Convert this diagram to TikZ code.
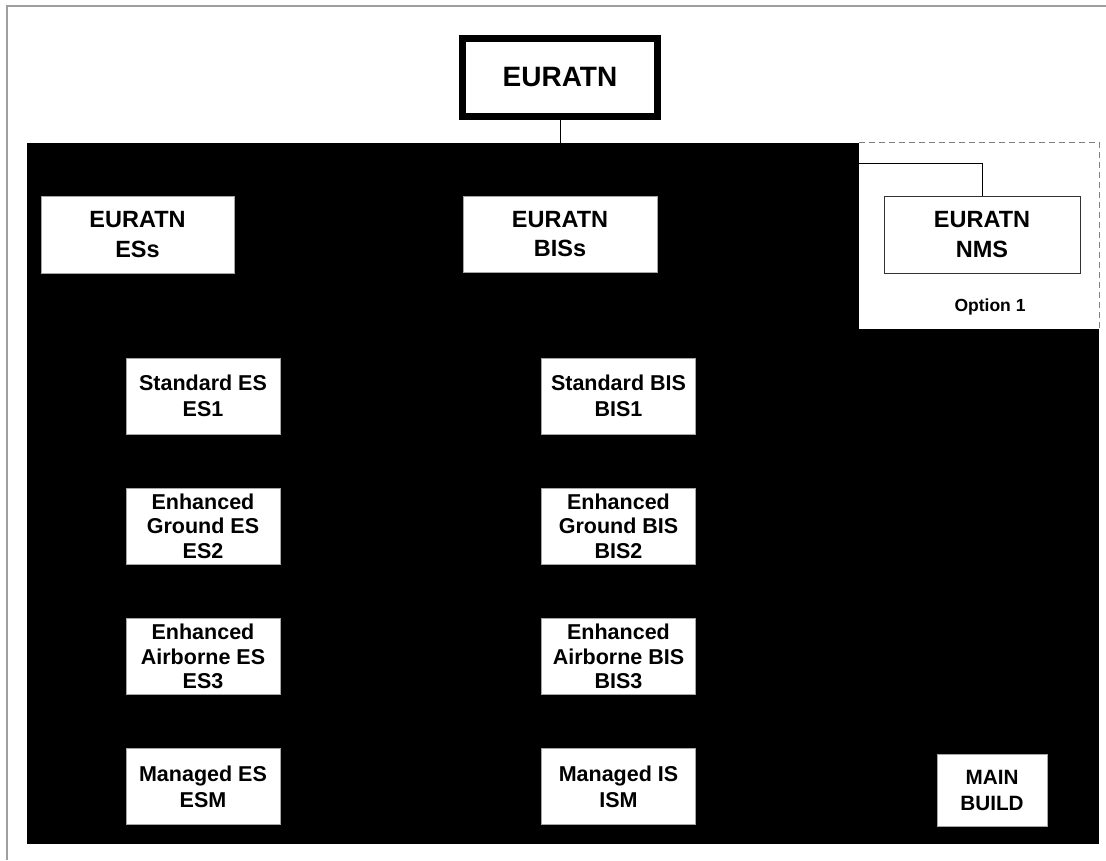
\documentclass[tikz,border=0pt]{standalone}
\usepackage{fontspec}
\setmainfont{Liberation Sans}
\begin{document}
\begin{tikzpicture}[x=1pt,y=-1pt,
  lvltop/.style={draw=black,line width=7pt,fill=white,minimum width=195pt,minimum height=78pt,inner sep=0pt,align=center,font=\bfseries\fontsize{28}{32}\selectfont},
  lvltwo/.style={fill=white,draw=gray!70,line width=0.6pt,inner sep=0pt,align=center,font=\bfseries\fontsize{23.5}{29.5}\selectfont},
  lvlthree/.style={fill=white,draw=gray!70,line width=0.6pt,minimum width=154pt,minimum height=76pt,inner sep=0pt,align=center,font=\bfseries\fontsize{21.5}{26.3}\selectfont},
  lvlthreeb/.style={lvlthree,font=\bfseries\fontsize{21.5}{24.5}\selectfont},
  conn/.style={draw=black,line width=0.8pt}]
\useasboundingbox (0,0) rectangle (1106,860);
% outer frame (top and left only)
\draw[gray!75,line width=1.2pt] (1106,6) -- (7,6) -- (7,860);
% black region
\node[fill=black,inner sep=0pt,minimum width=1072pt,minimum height=701pt] (blk) at (563,493.5) {};
% white option region
\node[fill=white,inner sep=0pt,minimum width=240pt,minimum height=186pt] (opt) at (979,236) {};
\draw[gray,dashed,line width=0.8pt,dash pattern=on 6pt off 4pt] (opt.north west) -- (opt.north east) -- (opt.south east);
% top
\node[lvltop] (top) at (560,77.5) {EURATN};
\coordinate (blktop) at (560,143);
\draw[conn] (top.south) -- (blktop);
% level two
\node[lvltwo,minimum width=193pt,minimum height=77pt] (ess) at (137.5,234.5) {EURATN\\ESs};
\node[lvltwo,minimum width=194pt,minimum height=76pt] (biss) at (560,234) {EURATN\\BISs};
\node[draw=black!80,line width=0.8pt,fill=white,minimum width=196pt,minimum height=77pt,inner sep=0pt,align=center,font=\bfseries\fontsize{23.5}{29.5}\selectfont] (nms) at (982,234.5) {EURATN\\NMS};
\coordinate (nmsin) at (859,163);
\draw[conn] (nms.north) |- (nmsin);
\node[font=\bfseries\fontsize{17.5}{20}\selectfont] (opt1) at (990,307) {Option 1};
% ES column
\node[lvlthree] (es1) at (203,396) {Standard ES\\ES1};
\node[lvlthreeb] (es2) at (203,526) {Enhanced\\Ground ES\\ES2};
\node[lvlthreeb] (es3) at (203,656.5) {Enhanced\\Airborne ES\\ES3};
\node[lvlthree] (esm) at (203,786.5) {Managed ES\\ESM};
% BIS column
\node[lvlthree] (bis1) at (618.5,396) {Standard BIS\\BIS1};
\node[lvlthreeb] (bis2) at (618.5,526) {Enhanced\\Ground BIS\\BIS2};
\node[lvlthreeb] (bis3) at (618.5,656.5) {Enhanced\\Airborne BIS\\BIS3};
\node[lvlthree] (ism) at (618.5,786.5) {Managed IS\\ISM};
% main build
\node[lvlthree,minimum width=110pt,minimum height=72pt,font=\bfseries\fontsize{20.7}{26}\selectfont] (mb) at (992,790) {MAIN\\BUILD};
\end{tikzpicture}
\end{document}
